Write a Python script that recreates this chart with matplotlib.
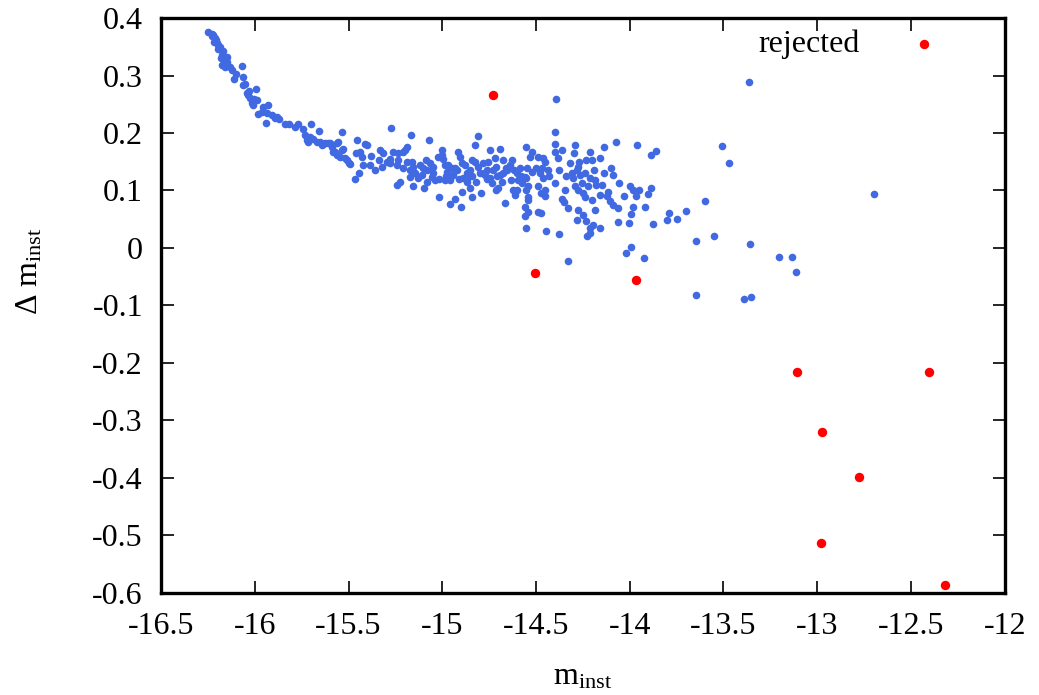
import matplotlib.pyplot as plt

# accepted stars: instrumental magnitude vs. magnitude offset
blue_x = [
    -16.248, -16.230, -16.221, -16.212, -16.208, -16.216, -16.203, -16.195, -16.198, -16.186,
    -16.168, -16.176, -16.180, -16.163, -16.150, -16.173, -16.159, -16.132, -16.070, -16.102,
    -16.111, -16.061, -16.052, -16.064, -15.995, -16.043, -16.035, -16.026, -16.003, -16.017,
    -16.008, -15.955, -15.928, -15.981, -15.937, -15.910, -15.892, -15.883, -15.942, -15.839,
    -15.816, -15.768, -15.786, -15.741,
    -16.228, -16.188, -16.148, -16.122, -16.031, -15.988, -15.962, -15.871,
    -15.732, -15.715, -15.706, -15.688, -15.702, -15.723, -15.656, -15.652, -15.635, -15.670,
    -15.643, -15.626, -15.608, -15.599, -15.590, -15.582, -15.563, -15.563, -15.555, -15.572,
    -15.546, -15.537, -15.537, -15.528, -15.519, -15.510, -15.496, -15.493, -15.466, -15.443,
    -15.454, -15.439, -15.430, -15.422, -15.413, -15.404, -15.386, -15.359, -15.333, -15.315,
    -15.336, -15.324, -15.297, -15.279, -15.274, -15.262, -15.235, -15.235, -15.244, -15.244,
    -15.226, -15.208, -15.199, -15.190, -15.190, -15.167, -15.173, -15.173, -15.155, -15.146,
    -15.155, -15.128, -15.110, -15.098, -15.087, -15.102, -15.084, -15.070, -15.066, -15.049,
    -15.057, -15.039, -15.022, -15.017,
    -15.004, -14.995, -15.004, -14.977, -14.986, -14.959, -14.942, -14.933, -14.959, -14.902,
    -14.897, -14.915, -14.906, -14.897, -14.889, -14.870, -14.870, -14.844, -14.844, -14.826,
    -14.809, -14.826, -14.809, -14.800, -14.791, -14.782, -14.764, -14.755, -14.746, -14.737,
    -14.720, -14.711, -14.714, -14.702, -14.693, -14.675, -14.666, -14.640, -14.631, -14.622,
    -14.613, -14.604, -14.586, -14.577, -14.560, -14.551, -14.542, -14.560, -14.560, -14.551,
    -14.970, -14.949, -14.922, -14.880, -14.853, -14.773, -14.730, -14.693, -14.656, -14.597,
    -14.629, -14.677, -14.746, -14.986,
    -14.551, -14.524, -14.533, -14.489, -14.462, -14.453, -14.524, -14.480, -14.462, -14.436,
    -14.551, -14.542, -14.489, -14.471, -14.453, -14.400, -14.542, -14.542, -14.489, -14.471,
    -14.449, -14.377, -14.396, -14.400, -14.400, -14.400, -14.382, -14.364, -14.346, -14.364,
    -14.329, -14.320, -14.293, -14.297, -14.276, -14.302, -14.293, -14.276, -14.284, -14.267,
    -14.257, -14.276, -14.249, -14.240, -14.222, -14.213, -14.213, -14.231, -14.204, -14.204,
    -14.187, -14.178, -14.160, -14.160, -14.187, -14.284, -14.231, -14.213, -14.196, -14.160,
    -14.226, -14.213, -14.137, -14.138, -14.101, -14.089, -14.071, -14.116, -14.059, -14.107,
    -14.089, -14.062, -14.065, -14.005, -13.995, -14.000, -13.982, -13.982, -14.327, -14.021,
    -13.995,
    -13.959, -13.884, -13.858, -13.510, -13.471, -13.950, -13.964, -13.902, -13.884, -13.918,
    -13.877, -13.792, -13.799, -13.748, -13.701, -13.600, -13.647, -13.552, -13.357, -13.924,
    -13.644, -13.204, -13.135, -13.115, -13.392, -13.353, -12.699, -13.362,
    -15.050, -15.020, -14.980, -14.930, -14.910, -14.870, -14.840, -14.820, -14.780, -14.760,
    -14.710, -14.680, -14.660, -14.620, -14.580, -14.550, -14.500, -14.470, -14.430, -14.380,
    -14.340, -14.310, -14.270, -14.240, -14.190, -14.150, -15.280, -15.210, -15.160, -15.120,
    -15.380, -15.460, -14.450, -14.350, -14.250, -14.120, -14.030, -14.600, -14.850, -15.080,
]
blue_y = [
    0.375, 0.373, 0.370, 0.366, 0.362, 0.359, 0.356, 0.353, 0.347, 0.346,
    0.343, 0.336, 0.330, 0.327, 0.324, 0.319, 0.315, 0.314, 0.317, 0.302,
    0.294, 0.298, 0.285, 0.283, 0.277, 0.269, 0.266, 0.261, 0.260, 0.253,
    0.249, 0.246, 0.249, 0.233, 0.234, 0.231, 0.227, 0.228, 0.218, 0.216,
    0.216, 0.216, 0.211, 0.207,
    0.368, 0.350, 0.332, 0.310, 0.273, 0.257, 0.237, 0.224,
    0.197, 0.185, 0.193, 0.189, 0.216, 0.188, 0.203, 0.185, 0.181, 0.185,
    0.179, 0.182, 0.182, 0.182, 0.176, 0.167, 0.162, 0.182, 0.184, 0.167,
    0.159, 0.202, 0.170, 0.173, 0.156, 0.153, 0.147, 0.146, 0.120, 0.131,
    0.187, 0.167, 0.159, 0.144, 0.181, 0.179, 0.144, 0.136, 0.170, 0.165,
    0.153, 0.141, 0.150, 0.147, 0.208, 0.167, 0.153, 0.165, 0.144, 0.110,
    0.115, 0.167, 0.170, 0.176, 0.150, 0.197, 0.136, 0.124, 0.141, 0.130,
    0.107, 0.121, 0.127, 0.104, 0.153, 0.139, 0.136, 0.187, 0.147, 0.141,
    0.124, 0.118, 0.159, 0.089,
    0.162, 0.154, 0.170, 0.133, 0.118, 0.118, 0.127, 0.086, 0.076, 0.072,
    0.098, 0.167, 0.159, 0.147, 0.121, 0.115, 0.130, 0.089, 0.153, 0.179,
    0.194, 0.150, 0.141, 0.130, 0.095, 0.147, 0.136, 0.150, 0.121, 0.113,
    0.156, 0.141, 0.101, 0.104, 0.172, 0.130, 0.078, 0.144, 0.118, 0.101,
    0.092, 0.130, 0.139, 0.113, 0.124, 0.101, 0.084, 0.072, 0.056, 0.035,
    0.144, 0.139, 0.136, 0.144, 0.136, 0.127, 0.136, 0.127, 0.136, 0.118,
    0.153, 0.153, 0.170, 0.144,
    0.176, 0.167, 0.159, 0.159, 0.156, 0.150, 0.133, 0.130, 0.121, 0.136,
    0.121, 0.107, 0.107, 0.095, 0.101, 0.113, 0.089, 0.063, 0.063, 0.061,
    0.030, 0.024, 0.259, 0.201, 0.181, 0.167, 0.156, 0.170, 0.101, 0.086,
    0.069, 0.148, 0.179, 0.165, 0.141, 0.121, 0.107, 0.101, 0.136, 0.127,
    0.113, 0.066, 0.057, 0.089, 0.107, 0.121, 0.167, 0.153, 0.153, 0.084,
    0.118, 0.110, 0.156, 0.092, 0.066, 0.049, 0.047, 0.034, 0.040, 0.034,
    0.021, 0.026, 0.175, 0.130, 0.139, 0.127, 0.185, 0.098, 0.113, 0.081,
    0.075, 0.069, 0.046, 0.044, 0.059, 0.107, 0.101, 0.072, -0.022, -0.008,
    0.001,
    0.179, 0.161, 0.169, 0.177, 0.147, 0.101, 0.091, 0.094, 0.105, 0.071,
    0.042, 0.061, 0.048, 0.051, 0.064, 0.081, 0.013, 0.020, 0.007, -0.017,
    -0.081, -0.015, -0.016, -0.042, -0.089, -0.086, 0.094, 0.288,
    0.130, 0.120, 0.125, 0.140, 0.120, 0.120, 0.125, 0.115, 0.130, 0.120,
    0.125, 0.115, 0.140, 0.135, 0.125, 0.140, 0.140, 0.140, 0.125, 0.135,
    0.125, 0.130, 0.150, 0.130, 0.135, 0.110, 0.155, 0.140, 0.150, 0.145,
    0.160, 0.165, 0.090, 0.080, 0.095, 0.090, 0.090, 0.100, 0.105, 0.115,
]

# rejected stars
rej_x = [-14.730, -14.504, -13.968, -13.110, -12.406, -12.977, -12.779, -12.982, -12.316]
rej_y = [0.266, -0.044, -0.056, -0.216, -0.216, -0.320, -0.398, -0.513, -0.586]

plt.rcParams["font.family"] = "Liberation Serif"
plt.rcParams["mathtext.fontset"] = "custom"
plt.rcParams["mathtext.rm"] = "Liberation Serif"
plt.rcParams["mathtext.it"] = "Liberation Serif:italic"

fig = plt.figure(figsize=(10.39, 6.95), dpi=100)
ax = fig.add_axes([0.155, 0.147, 0.812, 0.827])

ax.scatter(blue_x, blue_y, s=30, color="royalblue", linewidths=0, zorder=2)
ax.scatter(rej_x, rej_y, s=46, color="red", linewidths=0, zorder=3, label="rejected")

ax.set_xlim(-16.5, -12)
ax.set_ylim(-0.6, 0.4)
ax.set_xticks([-16.5, -16, -15.5, -15, -14.5, -14, -13.5, -13, -12.5, -12])
ax.set_xticklabels(["-16.5", "-16", "-15.5", "-15", "-14.5", "-14", "-13.5", "-13", "-12.5", "-12"])
ax.set_yticks([-0.6, -0.5, -0.4, -0.3, -0.2, -0.1, 0, 0.1, 0.2, 0.3, 0.4])
ax.set_yticklabels(["-0.6", "-0.5", "-0.4", "-0.3", "-0.2", "-0.1", "0", "0.1", "0.2", "0.3", "0.4"])
ax.tick_params(direction="in", length=9, width=1.2, labelsize=23,
               top=True, right=True)
ax.tick_params(axis="x", pad=14)
ax.tick_params(axis="y", pad=13)
for sp in ax.spines.values():
    sp.set_linewidth(2.4)

ax.set_xlabel(r"$\mathrm{m}_{\mathrm{inst}}$", fontsize=23)
ax.xaxis.set_label_coords(0.5, -0.122)
ax.set_ylabel(r"$\Delta\ \mathrm{m}_{\mathrm{inst}}$", fontsize=23)
ax.yaxis.set_label_coords(-0.138, 0.56)

ax.legend(loc="upper right", bbox_to_anchor=(0.965, 1.013), frameon=False,
          markerfirst=False, fontsize=23, handletextpad=1.0, borderaxespad=0.2,
          scatterpoints=1)

fig.savefig("out.png", dpi=100)
